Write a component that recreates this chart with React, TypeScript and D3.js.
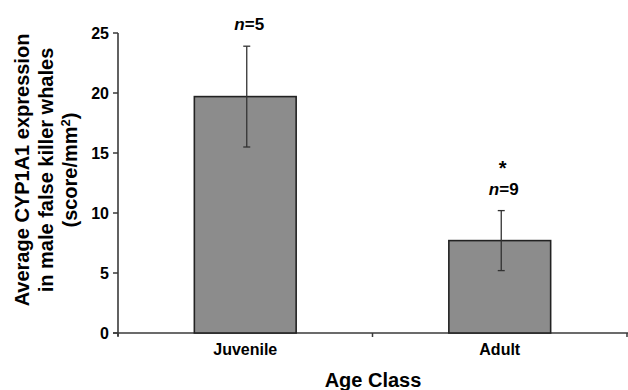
import React from 'react';
import * as d3 from 'd3';

const categories = ['Juvenile', 'Adult'];
const means = [19.7, 7.7];
const errors = [4.2, 2.5];
const nLabels = ['5', '9'];
const significance = ['', '*'];
const yTicks = [0, 5, 10, 15, 20, 25];

const W = 628;
const H = 390;
const margin = { top: 33, right: 1, bottom: 57, left: 118 };

const App = () => {
  const x = d3.scaleBand<string>()
    .domain(categories)
    .range([margin.left, W - margin.right]);
  const y = d3.scaleLinear()
    .domain([0, 25])
    .range([H - margin.bottom, margin.top]);

  const barW = x.bandwidth() * 0.4;
  const font = 'Liberation Sans, Arial, sans-serif';
  const axisColor = '#3a3a3a';
  const y0 = y(0);

  return (
    <svg width={W} height={H} style={{ position: 'absolute', left: 0, top: 0, background: '#fff' }}
      fontFamily={font} fontWeight="bold">
      {/* y axis */}
      <line x1={margin.left} x2={margin.left} y1={y(25)} y2={y0 + 3} stroke={axisColor} strokeWidth={1.6} />
      {yTicks.map(t => (
        <g key={t}>
          <line x1={margin.left - 5} x2={margin.left} y1={y(t)} y2={y(t)} stroke={axisColor} strokeWidth={1.5} />
          <text x={margin.left - 9} y={y(t)} dy="0.36em" textAnchor="end" fontSize={16}>{t}</text>
        </g>
      ))}
      {/* x axis */}
      <line x1={margin.left - 5} x2={W} y1={y0} y2={y0} stroke={axisColor} strokeWidth={1.6} />
      {[...categories.map(c => x(c)!), W - margin.right].map((v, i) => (
        <line key={i} x1={v} x2={v} y1={y0} y2={y0 + 4} stroke={axisColor} strokeWidth={1.5} />
      ))}

      {categories.map((c, i) => {
        const cx = x(c)! + x.bandwidth() / 2;
        const ex = cx + 1.5;
        return (
          <g key={c}>
            <rect x={cx - barW / 2} y={y(means[i])} width={barW} height={y0 - y(means[i])}
              fill="#8c8c8c" stroke="#222" strokeWidth={1.6} />
            <line x1={ex} x2={ex} y1={y(means[i] + errors[i])} y2={y(means[i] - errors[i])} stroke="#333" strokeWidth={1.3} />
            <line x1={ex - 3.5} x2={ex + 3.5} y1={y(means[i] + errors[i])} y2={y(means[i] + errors[i])} stroke="#333" strokeWidth={1.3} />
            <line x1={ex - 3.5} x2={ex + 3.5} y1={y(means[i] - errors[i])} y2={y(means[i] - errors[i])} stroke="#333" strokeWidth={1.3} />
            <text x={cx + 4} y={y(means[i] + errors[i]) - 16} textAnchor="middle" fontSize={17}>
              <tspan fontStyle="italic">n</tspan>={nLabels[i]}
            </text>
            {significance[i] && (
              <text x={cx + 3} y={y(means[i] + errors[i]) - 36} textAnchor="middle" fontSize={20}>{significance[i]}</text>
            )}
            <text x={cx} y={y0 + 22} textAnchor="middle" fontSize={16}>{c}</text>
          </g>
        );
      })}

      <text x={(margin.left + W) / 2} y={387} textAnchor="middle" fontSize={20}>Age Class</text>

      <g transform="translate(0,170) rotate(-90)" fontSize={20} textAnchor="middle">
        <text x={0} y={29}>Average CYP1A1 expression</text>
        <text x={0} y={53}>in male false killer whales</text>
        <text x={0} y={77}>(score/mm<tspan dy="-7" fontSize={13}>2</tspan><tspan dy="7">)</tspan></text>
      </g>
    </svg>
  );
};

export default App;
